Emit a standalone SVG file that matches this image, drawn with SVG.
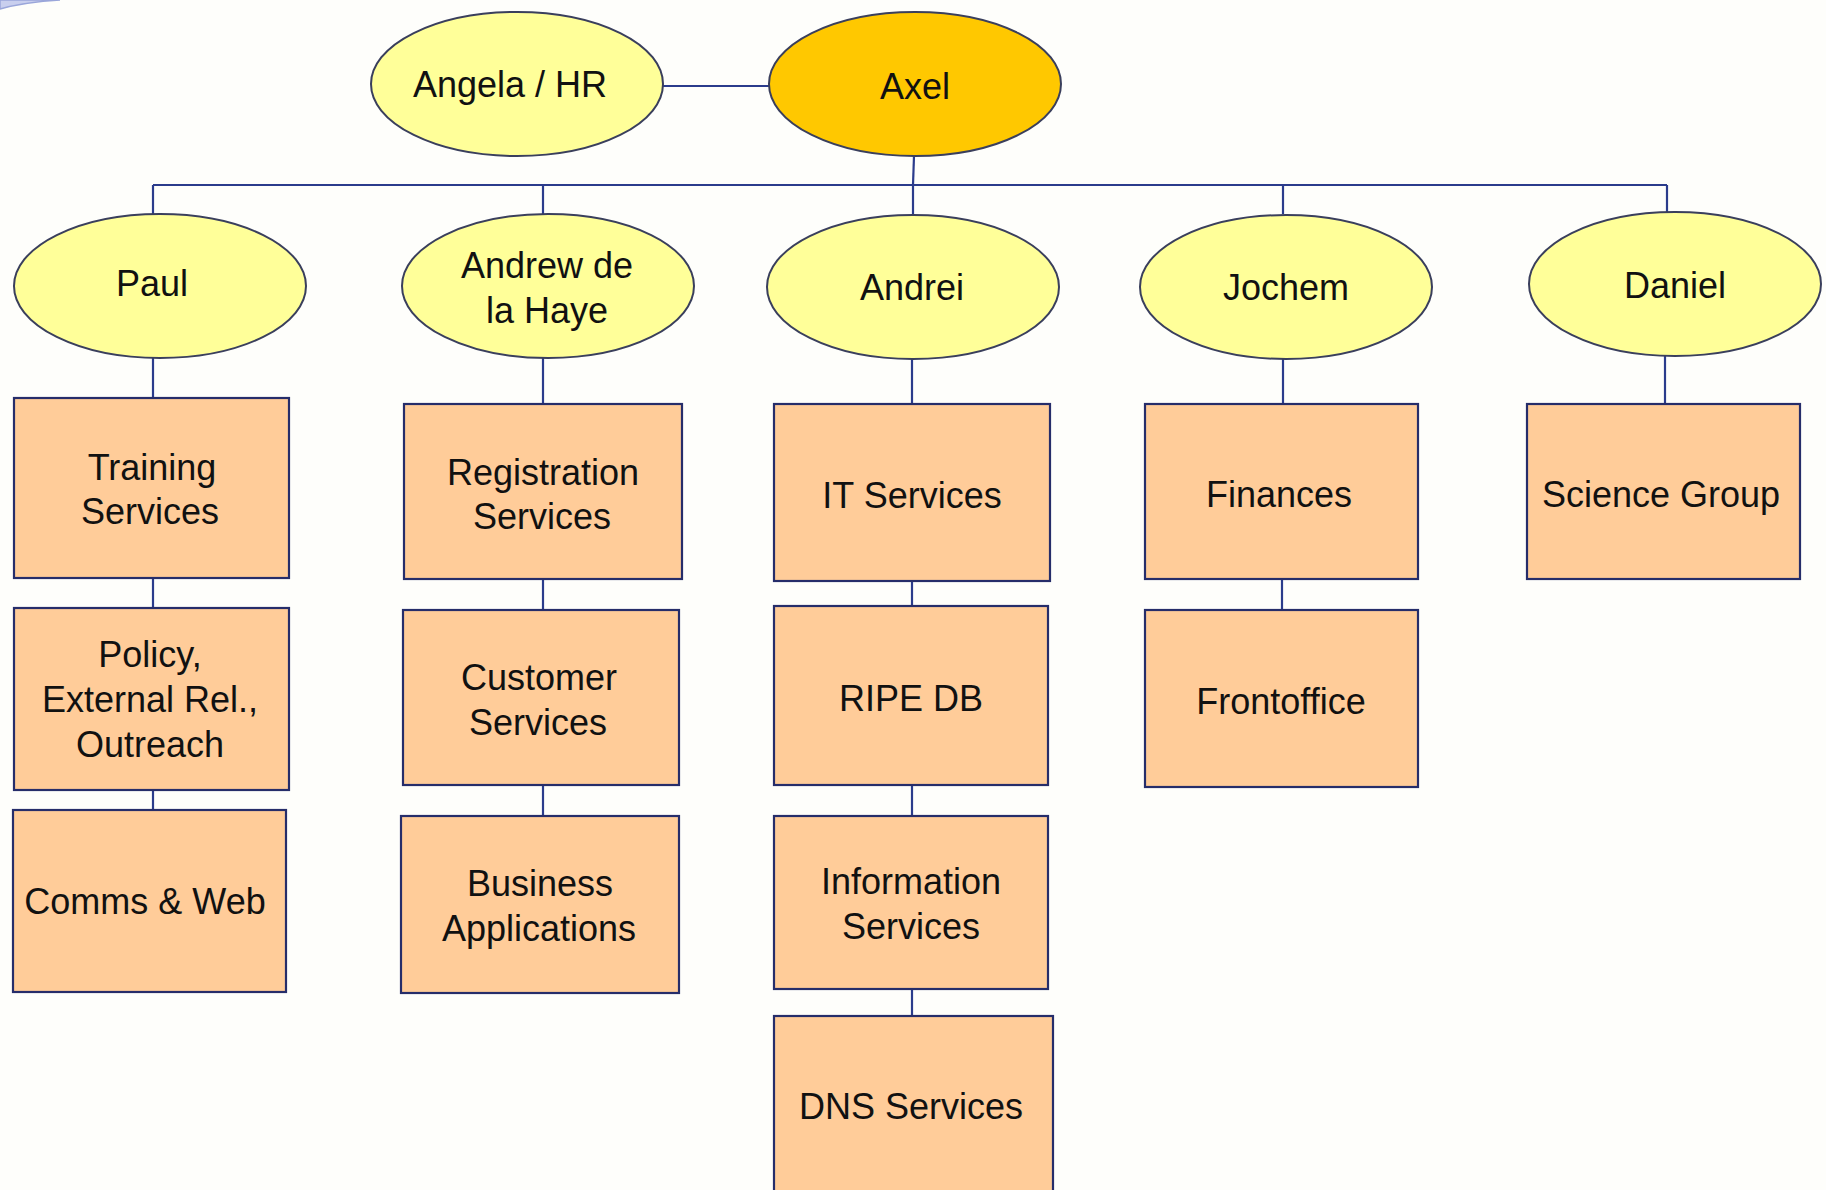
<svg xmlns="http://www.w3.org/2000/svg" width="1826" height="1190" viewBox="0 0 1826 1190">
<style>
.bg{fill:#FEFEFB}
.lead{fill:#FFFF99;stroke:#3A3F5C;stroke-width:2}
.boss{fill:#FFC800;stroke:#3A3F5C;stroke-width:2}
.unit{fill:#FFCC99;stroke:#262D6A;stroke-width:2.2}
.t{font-family:"Liberation Sans",Arial,sans-serif;font-size:36px;fill:#111;text-anchor:middle;dominant-baseline:central}
.c{stroke:#2B3C8C;stroke-width:2.2;fill:none}
</style>
<rect class="bg" x="0" y="0" width="1826" height="1190"/>
<path d="M0,9 Q25,2 60,0 L0,0 Z" fill="#C9CFEE" stroke="#9AA6DA" stroke-width="1.5"/>
<g id="connectors">
<line class="c" x1="663" y1="86" x2="769" y2="86"/>
<line class="c" x1="914" y1="156" x2="913" y2="185"/>
<line class="c" x1="153" y1="185" x2="1667" y2="185"/>
<line class="c" x1="153" y1="185" x2="153" y2="214"/>
<line class="c" x1="543" y1="185" x2="543" y2="214"/>
<line class="c" x1="913" y1="185" x2="913" y2="214"/>
<line class="c" x1="1283" y1="185" x2="1283" y2="214"/>
<line class="c" x1="1667" y1="185" x2="1667" y2="212"/>
<line class="c" x1="153" y1="358" x2="153" y2="398"/>
<line class="c" x1="543" y1="358" x2="543" y2="404"/>
<line class="c" x1="912" y1="358" x2="912" y2="404"/>
<line class="c" x1="1283" y1="358" x2="1283" y2="404"/>
<line class="c" x1="1665" y1="356" x2="1665" y2="404"/>
<line class="c" x1="153" y1="578" x2="153" y2="608"/>
<line class="c" x1="153" y1="790" x2="153" y2="810"/>
<line class="c" x1="543" y1="579" x2="543" y2="610"/>
<line class="c" x1="543" y1="785" x2="543" y2="816"/>
<line class="c" x1="912" y1="581" x2="912" y2="606"/>
<line class="c" x1="912" y1="785" x2="912" y2="816"/>
<line class="c" x1="912" y1="989" x2="912" y2="1016"/>
<line class="c" x1="1282" y1="579" x2="1282" y2="610"/>
</g>
<g id="angela"><ellipse class="lead" cx="517" cy="84" rx="146" ry="72"/><text class="t" x="510" y="84">Angela / HR</text></g>
<g id="axel"><ellipse class="boss" cx="915" cy="84" rx="146" ry="72"/><text class="t" x="915" y="86">Axel</text></g>
<g id="paul"><ellipse class="lead" cx="160" cy="286" rx="146" ry="72"/><text class="t" x="152" y="283">Paul</text></g>
<g id="andrew"><ellipse class="lead" cx="548" cy="286" rx="146" ry="72"/><text class="t" x="547" y="265">Andrew de</text><text class="t" x="547" y="310">la Haye</text></g>
<g id="andrei"><ellipse class="lead" cx="913" cy="287" rx="146" ry="72"/><text class="t" x="912" y="287">Andrei</text></g>
<g id="jochem"><ellipse class="lead" cx="1286" cy="287" rx="146" ry="72"/><text class="t" x="1286" y="287">Jochem</text></g>
<g id="daniel"><ellipse class="lead" cx="1675" cy="284" rx="146" ry="72"/><text class="t" x="1675" y="285">Daniel</text></g>
<g id="training"><rect class="unit" x="14" y="398" width="275" height="180"/><text class="t" x="152" y="467">Training</text><text class="t" x="150" y="511">Services</text></g>
<g id="policy"><rect class="unit" x="14" y="608" width="275" height="182"/><text class="t" x="150" y="654">Policy,</text><text class="t" x="150" y="699">External Rel.,</text><text class="t" x="150" y="744">Outreach</text></g>
<g id="comms"><rect class="unit" x="13" y="810" width="273" height="182"/><text class="t" x="145" y="901">Comms &amp; Web</text></g>
<g id="registration"><rect class="unit" x="404" y="404" width="278" height="175"/><text class="t" x="543" y="472">Registration</text><text class="t" x="542" y="516">Services</text></g>
<g id="customer"><rect class="unit" x="403" y="610" width="276" height="175"/><text class="t" x="539" y="677">Customer</text><text class="t" x="538" y="722">Services</text></g>
<g id="business"><rect class="unit" x="401" y="816" width="278" height="177"/><text class="t" x="540" y="883">Business</text><text class="t" x="539" y="928">Applications</text></g>
<g id="it"><rect class="unit" x="774" y="404" width="276" height="177"/><text class="t" x="912" y="495">IT Services</text></g>
<g id="ripedb"><rect class="unit" x="774" y="606" width="274" height="179"/><text class="t" x="911" y="698">RIPE DB</text></g>
<g id="information"><rect class="unit" x="774" y="816" width="274" height="173"/><text class="t" x="911" y="881">Information</text><text class="t" x="911" y="926">Services</text></g>
<g id="dns"><rect class="unit" x="774" y="1016" width="279" height="190"/><text class="t" x="911" y="1106">DNS Services</text></g>
<g id="finances"><rect class="unit" x="1145" y="404" width="273" height="175"/><text class="t" x="1279" y="494">Finances</text></g>
<g id="frontoffice"><rect class="unit" x="1145" y="610" width="273" height="177"/><text class="t" x="1281" y="701">Frontoffice</text></g>
<g id="science"><rect class="unit" x="1527" y="404" width="273" height="175"/><text class="t" x="1661" y="494">Science Group</text></g>
</svg>
